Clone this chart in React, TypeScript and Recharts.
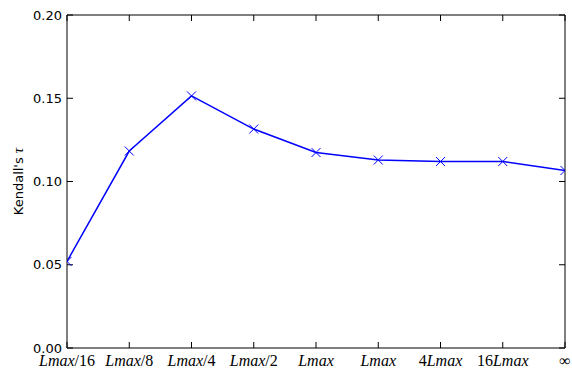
import { LineChart, Line, XAxis, YAxis } from 'recharts';

const labels = ['Lmax/16', 'Lmax/8', 'Lmax/4', 'Lmax/2', 'Lmax', 'Lmax', '4Lmax', '16Lmax', '∞'];
const tau = [0.052, 0.1183, 0.1514, 0.1315, 0.1174, 0.1129, 0.112, 0.112, 0.1066];
const yTicks = [0, 0.05, 0.1, 0.15, 0.2];
const xTicks = labels.map((_, i) => i);

const data = labels.map((label, i) => ({ idx: i, label, tau: tau[i] }));

const SERIF = '"Liberation Serif", "DejaVu Serif", serif';
const SANS = '"DejaVu Sans", sans-serif';

// letters italic (math style), digits and symbols upright
const MathTick = ({ x, y, payload }: any) => {
  const text = labels[payload.value] ?? '';
  const parts = text.split(/([A-Za-z]+)/).filter((p) => p !== '');
  return (
    <text x={x} y={y} dy={16} textAnchor="middle" fontFamily={SERIF} fontSize={16} fill="#000">
      {parts.map((p, i) => (
        <tspan key={i} fontStyle={/[A-Za-z]/.test(p) ? 'italic' : 'normal'}>
          {p}
        </tspan>
      ))}
    </text>
  );
};

const Cross = ({ cx, cy, index }: any) => {
  const r = 4.5;
  return (
    <path
      key={index}
      d={`M${cx - r},${cy - r}L${cx + r},${cy + r}M${cx - r},${cy + r}L${cx + r},${cy - r}`}
      stroke="#0000ff"
      strokeWidth={1}
      fill="none"
    />
  );
};

const YLabel = ({ viewBox }: any) => {
  const cy = viewBox.y + viewBox.height / 2;
  return (
    <text
      x={18}
      y={cy}
      transform={`rotate(-90, 18, ${cy})`}
      textAnchor="middle"
      dominantBaseline="central"
      fontFamily={SANS}
      fontSize={13}
      fill="#000"
    >
      Kendall's <tspan fontFamily={SERIF} fontStyle="italic" fontSize={15}>τ</tspan>
    </text>
  );
};

const axisLine = { stroke: '#000', strokeWidth: 1 };
const tickLine = { stroke: '#000', strokeWidth: 1 };
const NoTick = () => <g />;

export default function App() {
  return (
    <div style={{ position: 'absolute', left: 0, top: 0, background: '#fff' }}>
      <LineChart width={572} height={368} data={data} margin={{ top: 14, right: 6, bottom: 0, left: 0 }}>
        <XAxis
          dataKey="idx"
          type="number"
          domain={[0, 8]}
          ticks={xTicks}
          allowDataOverflow
          height={20}
          tickSize={-6}
          tickMargin={8}
          axisLine={axisLine}
          tickLine={tickLine}
          tick={<MathTick />}
          interval={0}
        />
        <XAxis
          xAxisId="top"
          orientation="top"
          dataKey="idx"
          type="number"
          domain={[0, 8]}
          ticks={xTicks}
          allowDataOverflow
          height={1}
          tickSize={-6}
          axisLine={axisLine}
          tickLine={tickLine}
          tick={<NoTick />}
          interval={0}
        />
        <YAxis
          type="number"
          domain={[0, 0.2]}
          ticks={yTicks}
          width={67}
          tickSize={-6}
          tickMargin={11}
          axisLine={axisLine}
          tickLine={tickLine}
          tick={{ fontFamily: SANS, fontSize: 13, fill: '#000' }}
          tickFormatter={(v: number) => v.toFixed(2)}
          interval={0}
          label={{ content: <YLabel /> }}
        />
        <YAxis
          yAxisId="right"
          orientation="right"
          type="number"
          domain={[0, 0.2]}
          ticks={yTicks}
          allowDataOverflow
          width={1}
          tickSize={-6}
          axisLine={axisLine}
          tickLine={tickLine}
          tick={<NoTick />}
          interval={0}
        />
        {/* invisible series so the top/right frame axes get drawn */}
        <Line
          xAxisId="top"
          yAxisId="right"
          dataKey="tau"
          stroke="none"
          dot={false}
          activeDot={false}
          legendType="none"
          isAnimationActive={false}
        />
        <Line
          dataKey="tau"
          stroke="#0000ff"
          strokeWidth={1.5}
          dot={<Cross />}
          activeDot={false}
          isAnimationActive={false}
        />
      </LineChart>
    </div>
  );
}
